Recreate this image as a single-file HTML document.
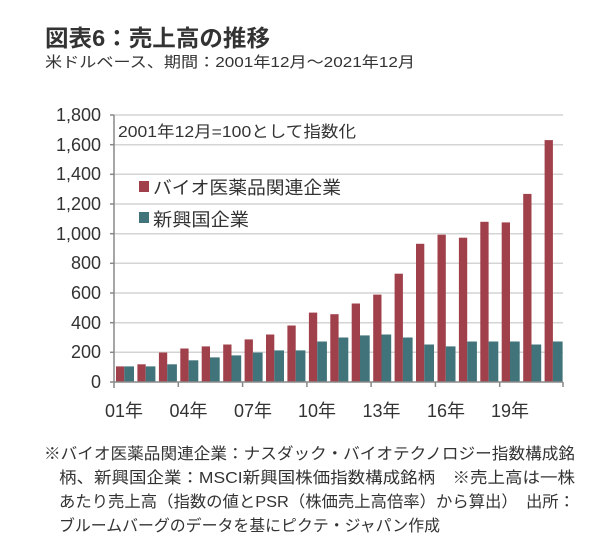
<!DOCTYPE html>
<html><head><meta charset="utf-8"><style>
html,body{margin:0;padding:0;background:#fff;}
svg{display:block;}
text{font-family:"Liberation Sans","Noto Sans CJK JP",sans-serif;fill:#333;}
</style></head><body>
<svg width="609" height="551" viewBox="0 0 609 551" xmlns="http://www.w3.org/2000/svg">
<text x="45" y="46" font-size="23" font-weight="bold" fill="#444" textLength="225" lengthAdjust="spacingAndGlyphs">図表6：売上高の推移</text>
<text x="45" y="67" font-size="15" textLength="370" lengthAdjust="spacingAndGlyphs">米ドルベース、期間：2001年12月～2021年12月</text>
<g stroke="#d4d4d4" stroke-width="1.5">
<line x1="114" x2="563" y1="115" y2="115"/><line x1="114" x2="563" y1="144.7" y2="144.7"/><line x1="114" x2="563" y1="174.3" y2="174.3"/><line x1="114" x2="563" y1="204" y2="204"/><line x1="114" x2="563" y1="233.7" y2="233.7"/><line x1="114" x2="563" y1="263.3" y2="263.3"/><line x1="114" x2="563" y1="293" y2="293"/><line x1="114" x2="563" y1="322.7" y2="322.7"/><line x1="114" x2="563" y1="352.3" y2="352.3"/>
</g>
<g font-size="18" text-anchor="end">
<text x="101" y="121">1,800</text><text x="101" y="151">1,600</text><text x="101" y="180">1,400</text><text x="101" y="210">1,200</text><text x="101" y="240">1,000</text><text x="101" y="269">800</text><text x="101" y="299">600</text><text x="101" y="329">400</text><text x="101" y="358">200</text><text x="101" y="388">0</text>
</g>
<g fill="#A0404A">
<rect x="116" y="366.4" width="8.3" height="15.6"/>
<rect x="137.4" y="364.3" width="8.3" height="17.7"/>
<rect x="158.9" y="352.5" width="8.3" height="29.5"/>
<rect x="180.3" y="348.5" width="8.3" height="33.5"/>
<rect x="201.7" y="346.4" width="8.3" height="35.6"/>
<rect x="223.2" y="344.5" width="8.3" height="37.5"/>
<rect x="244.6" y="339.4" width="8.3" height="42.6"/>
<rect x="266.0" y="334.5" width="8.3" height="47.5"/>
<rect x="287.4" y="325.5" width="8.3" height="56.5"/>
<rect x="308.9" y="312.6" width="8.3" height="69.4"/>
<rect x="330.3" y="314.2" width="8.3" height="67.8"/>
<rect x="351.7" y="303.5" width="8.3" height="78.5"/>
<rect x="373.2" y="294.6" width="8.3" height="87.4"/>
<rect x="394.6" y="273.7" width="8.3" height="108.3"/>
<rect x="416.0" y="243.8" width="8.3" height="138.2"/>
<rect x="437.5" y="234.7" width="8.3" height="147.3"/>
<rect x="458.9" y="237.7" width="8.3" height="144.3"/>
<rect x="480.3" y="221.8" width="8.3" height="160.2"/>
<rect x="501.7" y="222.4" width="8.3" height="159.6"/>
<rect x="523.2" y="193.9" width="8.3" height="188.1"/>
<rect x="544.6" y="140.1" width="8.3" height="241.9"/>
</g>
<g fill="#40737A">
<rect x="124.3" y="366.4" width="9.7" height="15.6"/>
<rect x="145.7" y="366.4" width="9.7" height="15.6"/>
<rect x="167.2" y="364.3" width="9.7" height="17.7"/>
<rect x="188.6" y="360.3" width="9.7" height="21.7"/>
<rect x="210.0" y="357.4" width="9.7" height="24.6"/>
<rect x="231.5" y="355.4" width="9.7" height="26.6"/>
<rect x="252.9" y="352.5" width="9.7" height="29.5"/>
<rect x="274.3" y="350.4" width="9.7" height="31.6"/>
<rect x="295.7" y="350.4" width="9.7" height="31.6"/>
<rect x="317.2" y="341.5" width="9.7" height="40.5"/>
<rect x="338.6" y="337.5" width="9.7" height="44.5"/>
<rect x="360.0" y="335.4" width="9.7" height="46.6"/>
<rect x="381.5" y="334.5" width="9.7" height="47.5"/>
<rect x="402.9" y="337.5" width="9.7" height="44.5"/>
<rect x="424.3" y="344.5" width="9.7" height="37.5"/>
<rect x="445.8" y="346.4" width="9.7" height="35.6"/>
<rect x="467.2" y="341.5" width="9.7" height="40.5"/>
<rect x="488.6" y="341.5" width="9.7" height="40.5"/>
<rect x="510.0" y="341.5" width="9.7" height="40.5"/>
<rect x="531.5" y="344.5" width="9.7" height="37.5"/>
<rect x="552.9" y="341.5" width="9.7" height="40.5"/>
</g>
<g stroke="#888" stroke-width="1.5">
<line x1="114" y1="115" x2="114" y2="388"/>
<line x1="114" y1="382" x2="563" y2="382"/>
<line x1="110" y1="115" x2="114" y2="115"/><line x1="110" y1="144.7" x2="114" y2="144.7"/><line x1="110" y1="174.3" x2="114" y2="174.3"/><line x1="110" y1="204" x2="114" y2="204"/><line x1="110" y1="233.7" x2="114" y2="233.7"/><line x1="110" y1="263.3" x2="114" y2="263.3"/><line x1="110" y1="293" x2="114" y2="293"/><line x1="110" y1="322.7" x2="114" y2="322.7"/><line x1="110" y1="352.3" x2="114" y2="352.3"/><line x1="110" y1="382" x2="114" y2="382"/>
<line x1="178.3" y1="382" x2="178.3" y2="387"/><line x1="242.6" y1="382" x2="242.6" y2="387"/><line x1="306.9" y1="382" x2="306.9" y2="387"/><line x1="371.1" y1="382" x2="371.1" y2="387"/><line x1="435.4" y1="382" x2="435.4" y2="387"/><line x1="499.7" y1="382" x2="499.7" y2="387"/><line x1="563" y1="382" x2="563" y2="387"/>
</g>
<g font-size="18" text-anchor="middle">
<text x="124" y="417">01年</text><text x="188.5" y="417">04年</text><text x="253" y="417">07年</text><text x="317" y="417">10年</text><text x="381.5" y="417">13年</text><text x="446" y="417">16年</text><text x="510" y="417">19年</text>
</g>
<text x="118" y="137" font-size="16" textLength="238" lengthAdjust="spacingAndGlyphs">2001年12月=100として指数化</text>
<rect x="139" y="181" width="10" height="11" fill="#A0404A"/>
<text x="153" y="194" font-size="18" textLength="188" lengthAdjust="spacingAndGlyphs">バイオ医薬品関連企業</text>
<rect x="139" y="212" width="10" height="11" fill="#40737A"/>
<text x="153" y="226" font-size="18" textLength="96" lengthAdjust="spacingAndGlyphs">新興国企業</text>
<g font-size="16">
<text x="44" y="459" textLength="531" lengthAdjust="spacingAndGlyphs">※バイオ医薬品関連企業：ナスダック・バイオテクノロジー指数構成銘</text>
<text x="59" y="483" textLength="516" lengthAdjust="spacingAndGlyphs">柄、新興国企業：MSCI新興国株価指数構成銘柄　※売上高は一株</text>
<text x="59" y="507" textLength="516" lengthAdjust="spacingAndGlyphs">あたり売上高（指数の値とPSR（株価売上高倍率）から算出）　出所：</text>
<text x="59" y="531" textLength="381" lengthAdjust="spacingAndGlyphs">ブルームバーグのデータを基にピクテ・ジャパン作成</text>
</g>
</svg>
</body></html>
